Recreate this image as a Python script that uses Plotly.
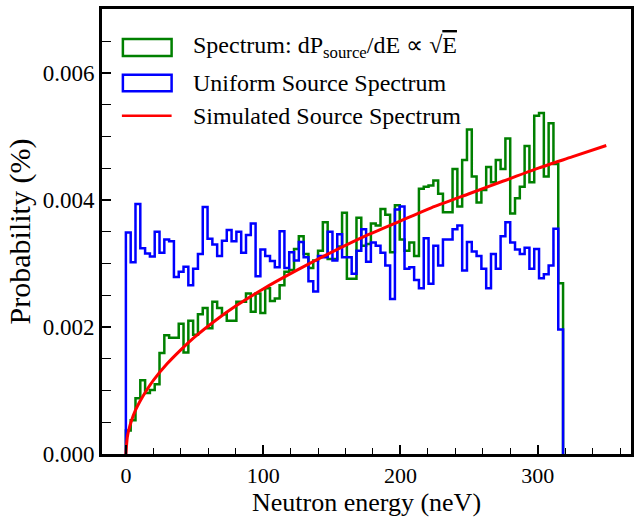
import plotly.graph_objects as go

# ---------------- data ----------------
BIN_WIDTH = 3.5  # neV, histogram bin width (bins start at 0 neV)

sqrt_spectrum = [
    0.00037, 0.00053, 0.00088, 0.00116, 0.00096, 0.00101, 0.00110, 0.00159, 0.00187, 0.00183,
    0.00183, 0.00205, 0.00160, 0.00210, 0.00188, 0.00220, 0.00230, 0.00198, 0.00240, 0.00230,
    0.00220, 0.00210, 0.00210, 0.00240, 0.00240, 0.00253, 0.00224, 0.00253, 0.00222, 0.00261,
    0.00241, 0.00245, 0.00266, 0.00287, 0.00290, 0.00323, 0.00343, 0.00315, 0.00293, 0.00305,
    0.00320, 0.00365, 0.00307, 0.00307, 0.00327, 0.00380, 0.00276, 0.00276, 0.00372, 0.00328,
    0.00331, 0.00363, 0.00360, 0.00386, 0.00377, 0.00318, 0.00392, 0.00338, 0.00320, 0.00333,
    0.00312, 0.00418, 0.00421, 0.00423, 0.00431, 0.00410, 0.00381, 0.00381, 0.00449, 0.00390,
    0.00463, 0.00511, 0.00437, 0.00396, 0.00416, 0.00452, 0.00428, 0.00463, 0.00449, 0.00497,
    0.00379, 0.00403, 0.00421, 0.00485, 0.00428, 0.00533, 0.00537, 0.00437, 0.00521, 0.00457,
    0.00269,
]

uniform_spectrum = [
    0.00349, 0.00302, 0.00394, 0.00324, 0.00316, 0.00311, 0.00350, 0.00317, 0.00338, 0.00335,
    0.00279, 0.00287, 0.00295, 0.00266, 0.00292, 0.00315, 0.00389, 0.00339, 0.00330, 0.00312,
    0.00336, 0.00353, 0.00335, 0.00350, 0.00317, 0.00345, 0.00363, 0.00280, 0.00322, 0.00312,
    0.00304, 0.00294, 0.00351, 0.00293, 0.00318, 0.00305, 0.00334, 0.00310, 0.00272, 0.00256,
    0.00312, 0.00310, 0.00350, 0.00305, 0.00346, 0.00310, 0.00310, 0.00284, 0.00320, 0.00354,
    0.00303, 0.00333, 0.00328, 0.00317, 0.00297, 0.00244, 0.00385, 0.00390, 0.00292, 0.00294,
    0.00274, 0.00261, 0.00340, 0.00268, 0.00328, 0.00297, 0.00338, 0.00338, 0.00354, 0.00360,
    0.00289, 0.00334, 0.00319, 0.00312, 0.00292, 0.00261, 0.00315, 0.00292, 0.00343, 0.00365,
    0.00333, 0.00322, 0.00315, 0.00325, 0.00292, 0.00323, 0.00277, 0.00283, 0.00297, 0.00355,
    0.00196,
]

sim_energy = [0, 1, 2, 4, 7, 10, 15, 20, 30, 40, 50, 65, 80, 100, 125, 150, 175, 200,
              225, 250, 275, 300, 325, 350]
sim_prob = [0.0, 0.00026, 0.00037, 0.00052, 0.00069, 0.00082, 0.00100, 0.00116, 0.00142,
            0.00164, 0.00184, 0.00210, 0.00233, 0.00260, 0.00290, 0.00318, 0.00344, 0.00367,
            0.00390, 0.00410, 0.00430, 0.00450, 0.00468, 0.00486]

x_tick_vals = [0, 100, 200, 300]
y_tick_vals = [0.0, 0.002, 0.004, 0.006]
y_tick_text = ["0.000", "0.002", "0.004", "0.006"]

legend_labels = [
    "Spectrum: dP<sub>source</sub>/dE ∝ √<span style='text-decoration:overline'>E</span>",
    "Uniform Source Spectrum",
    "Simulated Source Spectrum",
]

GREEN = "rgb(0,128,0)"
BLUE = "rgb(0,0,255)"
RED = "rgb(255,0,0)"
FONT = "Liberation Serif"

# ---------------- helpers ----------------
def step_xy(values):
    xs, ys = [0.0], [0.0]
    for i, v in enumerate(values):
        xs.append(i * BIN_WIDTH)
        ys.append(v)
    xs.append(len(values) * BIN_WIDTH)
    ys.append(0.0)
    return xs, ys

W, H = 637, 517
ML, MR, MT, MB = 102, 3, 9, 54
PW, PH = W - ML - MR, H - MT - MB

def px(xp):
    return (xp - ML) / PW

def py(yp):
    return (H - MB - yp) / PH

fig = go.Figure()

gx, gy = step_xy(sqrt_spectrum)
bx, by = step_xy(uniform_spectrum)

fig.add_trace(go.Scatter(x=gx, y=gy, mode="lines", line=dict(color=GREEN, width=2.5, shape="hv"),
                         showlegend=False, hoverinfo="skip"))
fig.add_trace(go.Scatter(x=bx, y=by, mode="lines", line=dict(color=BLUE, width=2.5, shape="hv"),
                         showlegend=False, hoverinfo="skip"))
fig.add_trace(go.Scatter(x=sim_energy, y=sim_prob, mode="lines",
                         line=dict(color=RED, width=3, shape="spline", smoothing=0.6),
                         showlegend=False, hoverinfo="skip"))

# ---------------- manual legend ----------------
shapes = [
    dict(type="rect", xref="paper", yref="paper", x0=px(123), x1=px(172), y0=py(57), y1=py(39.5),
         line=dict(color=GREEN, width=2.5), fillcolor="rgba(0,0,0,0)"),
    dict(type="rect", xref="paper", yref="paper", x0=px(123), x1=px(172), y0=py(93), y1=py(76),
         line=dict(color=BLUE, width=2.5), fillcolor="rgba(0,0,0,0)"),
    dict(type="line", xref="paper", yref="paper", x0=px(122), x1=px(172), y0=py(118), y1=py(118),
         line=dict(color=RED, width=2.5)),
]
annotations = []
for lbl, yc in zip(legend_labels, [48, 84, 118]):
    annotations.append(dict(text=lbl, xref="paper", yref="paper", x=px(192), y=py(yc),
                            xanchor="left", yanchor="middle", showarrow=False,
                            font=dict(family=FONT, size=24, color="black")))

fig.update_layout(
    width=W, height=H,
    margin=dict(l=ML, r=MR, t=MT, b=MB),
    paper_bgcolor="white", plot_bgcolor="white",
    font=dict(family=FONT, size=23, color="black"),
    shapes=shapes, annotations=annotations,
    showlegend=False,
)

fig.update_xaxes(
    range=[-17.4, 368], tickvals=x_tick_vals, ticks="inside", ticklen=9, tickwidth=1.5,
    tickcolor="black", showline=True, linewidth=3, linecolor="black", mirror=True,
    showgrid=False, zeroline=False,
    minor=dict(dtick=20, tick0=0, ticks="inside", ticklen=6, tickwidth=1.2, tickcolor="black"),
    tickfont=dict(family=FONT, size=22),
    title=dict(text="Neutron energy (neV)", font=dict(family=FONT, size=26), standoff=7),
)
fig.update_yaxes(
    range=[0, 0.00701], tickvals=y_tick_vals, ticktext=y_tick_text, ticks="inside", ticklen=9,
    tickwidth=1.5, tickcolor="black", showline=True, linewidth=3, linecolor="black", mirror=True,
    showgrid=False, zeroline=False,
    minor=dict(dtick=0.0005, tick0=0, ticks="inside", ticklen=9, tickwidth=1.2, tickcolor="black"),
    tickfont=dict(family=FONT, size=23),
    title=dict(text="Probability (%)", font=dict(family=FONT, size=30), standoff=4),
)

fig.write_html("out.html")
